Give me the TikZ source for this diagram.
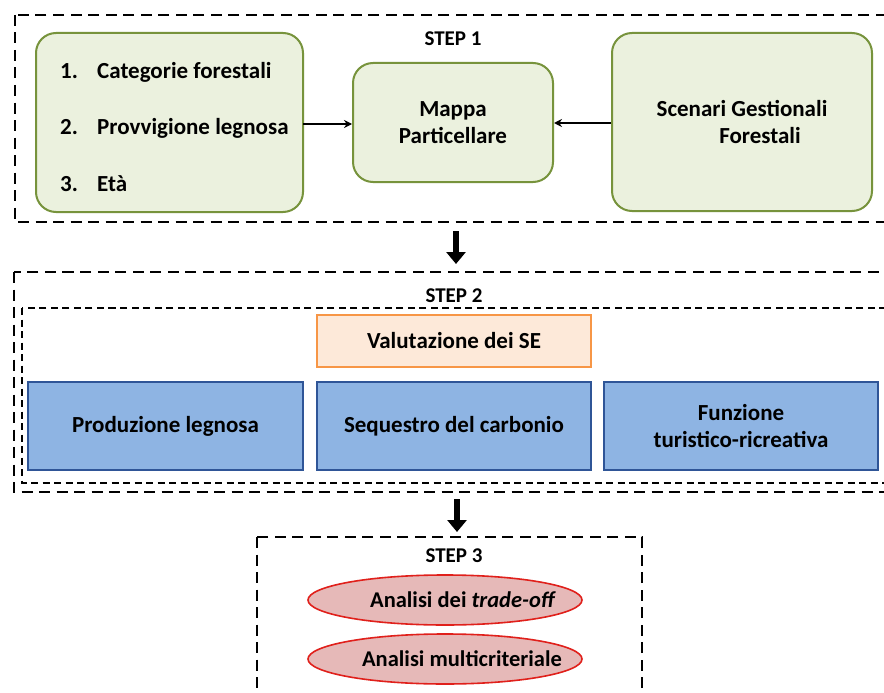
\documentclass[tikz,border=0pt]{standalone}
\usepackage{fontspec}
\setmainfont{Carlito}
\usetikzlibrary{arrows.meta,shapes.geometric}
\definecolor{greenfill}{HTML}{EBF1DE}
\definecolor{greenline}{HTML}{77933C}
\definecolor{bluefill}{HTML}{8EB4E3}
\definecolor{blueline}{HTML}{2F5597}
\definecolor{orangefill}{HTML}{FDE9D9}
\definecolor{orangeline}{HTML}{F79646}
\definecolor{pinkfill}{HTML}{E6B9B8}
\definecolor{redline}{HTML}{E0201B}
\newcommand{\itemnum}[1]{\makebox[37pt][l]{#1}}
\tikzset{
  every node/.style={font=\bfseries\fontsize{23}{27}\selectfont},
  stepframe/.style={draw=black, line width=2.2pt, dash pattern=on 11pt off 6.5pt},
  innerframe/.style={draw=black, line width=1.2pt, dash pattern=on 7pt off 4.5pt},
  greenbox/.style={draw=greenline, fill=greenfill, line width=2pt, rounded corners=20pt},
  bluebox/.style={draw=blueline, fill=bluefill, line width=1.6pt, align=center},
  orangebox/.style={draw=orangeline, fill=orangefill, line width=1.6pt},
  redoval/.style={ellipse, draw=redline, fill=pinkfill, line width=1.6pt, inner sep=0pt,
    minimum width=274pt, minimum height=50pt},
  ovaltext/.style={font=\bfseries\fontsize{22.5}{27}\selectfont},
  thin arrow/.style={-{Stealth[length=8pt,width=8pt]}, line width=1.3pt},
  big arrow/.style={line width=6pt, -{Triangle[length=12pt,width=19pt]}},
  steplabel/.style={inner sep=0pt, font=\bfseries\fontsize{21}{25}\selectfont}
}
\begin{document}
\begin{tikzpicture}[x=1pt,y=-1pt]
\useasboundingbox (0,0) rectangle (884,693);
\clip (0,0) rectangle (884,693);
\fill[white] (0,0) rectangle (884,693);

% ---------- STEP 1 ----------
\draw[stepframe] (15,15) rectangle (900,222);
\node[steplabel] (s1) at (453,39) {STEP 1};

\draw[greenbox] (36,33) rectangle (303,212);
\node (inputs) at (169.5,122.5) [minimum width=267pt, minimum height=179pt] {};
\node[anchor=west, inner sep=0pt] (i1) at (60,72) {\itemnum{1.}Categorie forestali};
\node[anchor=west, inner sep=0pt] (i2) at (60,128) {\itemnum{2.}Provvigione legnosa};
\node[anchor=west, inner sep=0pt] (i3) at (60,184) {\itemnum{3.}Età};

\node[greenbox, minimum width=200pt, minimum height=119pt, align=center] (mappa) at (453,122.5)
  {Mappa\\Particellare};
\node[greenbox, minimum width=260pt, minimum height=178pt, align=center] (scen) at (742,122)
  {Scenari Gestionali\\\hspace*{36pt}Forestali};

\draw[thin arrow] (inputs.east |- 0,124) -- (mappa.west |- 0,124);
\draw[thin arrow] (scen.west |- 0,123) -- (mappa.east |- 0,123);

% ---------- arrow to STEP 2 ----------
\coordinate (a1s) at (456,231);
\coordinate (a1e) at (456,264);
\draw[big arrow] (a1s) -- (a1e);

% ---------- STEP 2 ----------
\draw[stepframe] (14,272) rectangle (900,492);
\draw[innerframe] (22,308) rectangle (900,483);
\node[steplabel] (s2) at (454,296) {STEP 2};

\node[orangebox, minimum width=274pt, minimum height=52pt] (val) at (454,341) {Valutazione dei SE};
\node[bluebox, minimum width=275pt, minimum height=88pt] (prod) at (165.5,426) {Produzione legnosa};
\node[bluebox, minimum width=274pt, minimum height=88pt] (seq) at (454,426) {Sequestro del carbonio};
\node[bluebox, minimum width=274pt, minimum height=88pt] (tur) at (741,426) {Funzione\\turistico-ricreativa};

% ---------- arrow to STEP 3 ----------
\coordinate (a2s) at (457,499);
\coordinate (a2e) at (457,532);
\draw[big arrow] (a2s) -- (a2e);

% ---------- STEP 3 ----------
\draw[stepframe] (257,537) rectangle (642,700);
\node[steplabel] (s3) at (454,556) {STEP 3};
\node[redoval] (trade) at (445,600) {};
\node[ovaltext] (tradetxt) at ([xshift=18pt]trade.center) {Analisi dei \textit{trade-off}};
\node[redoval] (multi) at (445,659) {};
\node[ovaltext] (multitxt) at ([xshift=17pt]multi.center) {Analisi multicriteriale};
\end{tikzpicture}
\end{document}
